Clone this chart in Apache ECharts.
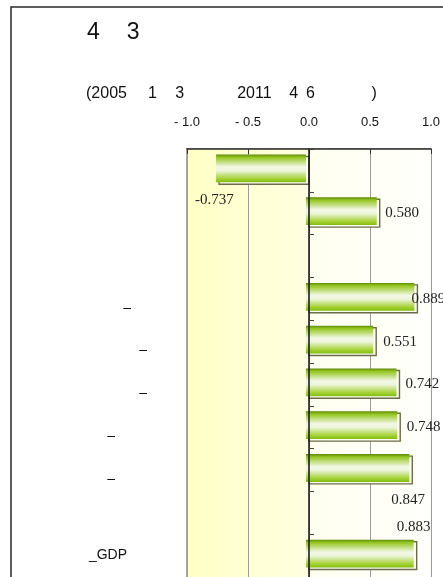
<!DOCTYPE html>
<html>
<head>
<meta charset="utf-8">
<script src="https://cdn.jsdelivr.net/npm/echarts@6/dist/echarts.min.js"></script>
<style>
  html, body { margin: 0; padding: 0; background: #fff; }
  #chart { width: 443px; height: 577px; }
</style>
</head>
<body>
<div id="chart"></div>
<script>
// Category labels (top to bottom) and correlation values; null = empty row
const categories = ['', '', '', ' \n–', ' \n–', ' \n–', ' \n–', ' \n–', '', '_GDP'];
const values = [-0.737, 0.580, null, 0.889, 0.551, 0.742, 0.748, 0.847, null, 0.883];
const axisTicks = [-1.0, -0.5, 0.0, 0.5, 1.0];

// Layout helpers (label nudges relative to the bar end, right padding of row labels)
const labelNudge = [[-24, 30], [5.5, 0], null, [-6, 0], [7, 0], [6, 0], [6.5, 0], [-21, 30], null, [-20, -29]];
const rowLabelPad = [0, 0, 0, 48, 32, 32, 64, 64, 0, 52];

const SANS = '"Liberation Sans", Arial, sans-serif';
const SERIF = '"Liberation Serif", "Times New Roman", serif';

const barData = [];
values.forEach((v, i) => { if (v !== null) barData.push([v, i]); });

const fillGradient = () => new echarts.graphic.LinearGradient(0, 0, 0, 1, [
  { offset: 0.00, color: '#5e8a08' },
  { offset: 0.10, color: '#93c51e' },
  { offset: 0.45, color: '#f3f8e6' },
  { offset: 0.58, color: '#edf5da' },
  { offset: 0.88, color: '#a2d030' },
  { offset: 1.00, color: '#82bc10' }
]);

const chart = echarts.init(document.getElementById('chart'), null, { renderer: 'canvas' });

chart.setOption({
  animation: false,
  backgroundColor: '#ffffff',
  title: [
    {
      left: 82, top: 16, padding: 5,
      text: '{d|4}{g|}{d|3}',
      textStyle: {
        fontWeight: 'normal',
        rich: {
          d: { fontFamily: SANS, fontSize: 23, fontWeight: 'normal', color: '#111' },
          g: { width: 27 }
        }
      }
    },
    {
      left: 81, top: 80, padding: 5,
      text: '{d|(2005}{g1|}{d|1}{g2|}{d|3}{g3|}{d|2011}{g4|}{d|4}{g5|}{d|6}{g6|}{d|)}',
      textStyle: {
        fontWeight: 'normal',
        rich: {
          d: { fontFamily: SANS, fontSize: 16, fontWeight: 'normal', color: '#111' },
          g1: { width: 21 }, g2: { width: 18.5 }, g3: { width: 53 },
          g4: { width: 17.5 }, g5: { width: 8 }, g6: { width: 56.5 }
        }
      }
    }
  ],
  graphic: [{
    type: 'rect', silent: true, z: -10,
    shape: { x: 11, y: 7, width: 470, height: 620 },
    style: { fill: 'none', stroke: '#2a2a2a', lineWidth: 1.5 }
  }],
  grid: {
    left: 187, top: 149, width: 244, bottom: -3,
    show: true, borderColor: '#8e8e8e', borderWidth: 1.5, backgroundColor: 'transparent'
  },
  xAxis: {
    type: 'value', position: 'top',
    min: axisTicks[0], max: axisTicks[axisTicks.length - 1], interval: 0.5,
    z: 2,
    axisLine: { show: true, lineStyle: { color: '#2b2b2b', width: 1.5 } },
    axisTick: { show: true, inside: true, length: 5, lineStyle: { color: '#333' } },
    splitLine: { show: true, lineStyle: { color: '#9c9c9c', width: 1 } },
    axisLabel: {
      margin: 20, fontFamily: SANS, fontSize: 13, color: '#111',
      formatter: v => (v < 0 ? '- ' : '') + Math.abs(v).toFixed(1)
    }
  },
  yAxis: [
    {
      type: 'category', inverse: true, position: 'left', z: 2,
      data: categories.map((c, i) => ({ value: c, textStyle: { padding: [0, rowLabelPad[i], 0, 0] } })),
      axisLine: { show: false, onZero: false }, axisTick: { show: false }, splitLine: { show: false },
      axisLabel: { margin: 8, fontFamily: SANS, fontSize: 14, lineHeight: 18, color: '#111', interval: 0 }
    },
    {
      // zero line with row separators
      type: 'category', inverse: true, position: 'right', z: 4,
      data: categories,
      axisLine: { show: true, onZero: true, lineStyle: { color: '#111', width: 1.5 } },
      axisTick: { show: true, inside: false, length: 5, lineStyle: { color: '#444' } },
      axisLabel: { show: false }, splitLine: { show: false }
    }
  ],
  series: [
    {
      // shaded halves of the plot: negative side and positive side
      type: 'line', data: [], z: 1, silent: true,
      markArea: {
        silent: true,
        data: [
          [{ xAxis: -1, itemStyle: { color: new echarts.graphic.LinearGradient(0, 0, 1, 0, [
              { offset: 0, color: '#ffffc6' }, { offset: 1, color: '#ffffe2' }]) } }, { xAxis: 0 }],
          [{ xAxis: 0, itemStyle: { color: new echarts.graphic.LinearGradient(0, 0, 1, 0, [
              { offset: 0, color: '#fffff0' }, { offset: 1, color: '#fffffc' }]) } }, { xAxis: 1 }]
        ]
      }
    },
    {
      type: 'custom', z: 3, clip: false,
      encode: { x: 0, y: 1 },
      data: barData,
      renderItem(params, api) {
        const v = api.value(0);
        const row = api.value(1);
        const p0 = api.coord([0, row]);
        const p1 = api.coord([v, row]);
        const h = api.size([0, 1])[1] * 0.65;
        const x = Math.min(p0[0], p1[0]);
        const w = Math.abs(p1[0] - p0[0]);
        const y = p0[1] - h / 2;
        const nudge = labelNudge[row] || [6, 0];
        return {
          type: 'group',
          children: [
            { type: 'rect', shape: { x: x, y: y, width: w, height: h },
              style: { fill: '#fbfcf2', stroke: '#6c6b4a', lineWidth: 1.4 } },
            { type: 'rect', shape: { x: x - 3, y: y - 2, width: w, height: h },
              style: { fill: fillGradient() } },
            { type: 'text', x: p1[0] + nudge[0], y: p1[1] + nudge[1],
              style: { text: v.toFixed(3), font: '15px ' + SERIF, fill: '#222',
                       align: 'left', verticalAlign: 'middle' } }
          ]
        };
      }
    }
  ]
});
</script>
</body>
</html>
